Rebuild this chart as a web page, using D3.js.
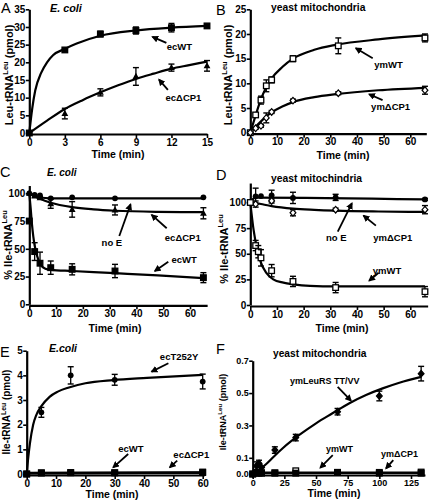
<!DOCTYPE html>
<html><head><meta charset="utf-8">
<script src="https://cdn.jsdelivr.net/npm/d3@7"></script>
<style>body{margin:0;background:#fff} text{font-family:"Liberation Sans",Arial,Helvetica,sans-serif}</style>
</head><body><svg id="c" width="432" height="500"></svg>
<script>
// ---------- Panel A (E. coli, Leu-tRNA) ----------
const aTime=[0,3,6,9,12,15];
const aWT=[0,23.5,28,29,29.8,30.3];
const aWTerr=[0,0.4,0.8,1.0,1.2,0.4];
const aCP1=[0,5.5,11.5,16,18.5,19];
const aCP1err=[0,1.5,1.0,2.5,1.0,1.5];
const aWTfitT=[0,0.25,0.5,1,1.5,2,3,4,6,9,12,15];
const aWTfit=[0,7,12,17,20,22,23.8,25.3,27.5,29,29.8,30.3];
const aCP1fitT=[0,1.5,3,4.5,6,7.5,9,10.5,12,13.5,15];
const aCP1fit=[0,3.5,6.8,9.3,11.5,13.5,15.3,16.8,18.2,19.2,20.2];
const aXTicks=[0,3,6,9,12,15];
const aYTicks=[0,5,10,15,20,25,30,35];

// ---------- Panel B (yeast mito, Leu-tRNA) ----------
const bTime=[0,2,4,6,8,16,33,65.5];
const bWT=[0,3.6,6.6,9.5,10.7,15,17.6,19.2];
const bWTerr=[0,0.4,0.8,1.2,0.6,0.6,1.6,0.8];
const bCP1=[0,0.9,1.4,3.0,4.2,6.5,8.0,8.6];
const bCP1err=[0,0.2,0.3,1.0,0.3,0.3,0.3,0.8];
const bFitT=[0,2,4,6,8,12,16,24,32,48,66];
const bWTfit=[0,3.5,6.8,9.2,11,13.3,15,16.8,17.8,18.9,19.7];
const bCP1fit=[0,1.2,2.3,3.3,4.1,5.3,6.2,7.2,7.8,8.6,9.1];
const bXTicks=[0,10,20,30,40,50,60];
const bYTicks=[0,5,10,15,20,25];

// ---------- Panel C (E. coli, % Ile-tRNA) ----------
const cTime=[0,2,4,8,16,32,65];
const cWT=[75,47.5,37,33,31.5,30,24];
const cWTerr=[0,8,10,6,5,6,4.5];
const cCP1=[100,97.5,96,90.5,85.5,85,82];
const cCP1err=[0,1,1,4,7,4.5,5];
const cNoE=[100,98.5,98,95.5,96.4,95.5,96.4];
const cWTfitT=[0,0.5,1,1.5,2,3,4,6,8,16,32,48,65];
const cWTfit=[100,87,72,61,53,43,36.5,32,31,30,28,26,23.5];
const cCP1fitT=[0,4,8,16,24,32,48,65];
const cCP1fit=[100,95,91.5,87.5,85.5,84.3,83.3,83];
const cNoEfitT=[0,2,4,8,16,65];
const cNoEfit=[100,97.5,96.2,95.5,95.4,95.4];
const cXTicks=[0,10,20,30,40,50,60];
const cYTicks=[0,25,50,75,100];

// ---------- Panel D (yeast mito, % Ile-tRNA) ----------
const dTime=[0,2,3,4,8,16,32,65.5];
const dWT=[100,58,52,46,33.5,23,17,13];
const dWTerr=[0,5,6,8,6,5,5,5];
const dCP1Time=[0,2,8,16,32,65.5];
const dCP1=[100,98.5,101.5,90,93,93];
const dCP1err=[0,3,2,3,1.5,4];
const dNoETime=[0,2,4,8,16,32,65.5];
const dNoE=[100,106,106.3,107,104.5,105,103];
const dNoEerr=[0,8,0,5,5.5,3,1];
const dWTfitT=[0,1.25,2.5,3.6,6.1,8.6,12.4,16.1,22.4,32,65.5];
const dWTfit=[100,73,55,44,31,25,21.8,20.2,18.7,18.2,18.2];
const dCP1fitT=[0,4,8,16,24,32,48,65.5];
const dCP1fit=[100.5,98.5,96.5,94,92.8,92,91.2,90.8];
const dNoEfitT=[0,2,65.5];
const dNoEfit=[101,104.8,103];
const dXTicks=[0,10,20,30,40,50,60];
const dYTicks=[0,25,50,75,100];

// ---------- Panel E (E.coli, Ile-tRNA pmol) ----------
const eTime=[0,5,15,30,60];
const eT252Y=[0,2.5,4.0,3.82,3.75];
const eT252Yerr=[0,0.2,0.35,0.22,0.3];
const eWT=[0,0.05,0.06,0.05,0.06];
const eCP1=[0,0.04,0.05,0.05,0.08];
const eFitT=[0,0.56,1.1,2.2,3.3,5,7.8,10.6,14.4,20,29.4,41,60];
const eT252Yfit=[0,0.7,1.24,2.0,2.4,2.75,3.13,3.34,3.51,3.68,3.81,3.9,4.02];
const eFlatT=[0,60];
const eWTfit=[0.04,0.05];
const eCP1fit=[0.03,0.06];
const eXTicks=[0,10,20,30,40,50,60];
const eYTicks=[0,1,2,3,4,5];

// ---------- Panel F (yeast mito, Ile-tRNA pmol) ----------
const fTime=[0,3,5,7,17.5,34,67,100,133];
const fTT=[0,0.05,0.065,0.04,0.148,0.225,0.385,0.482,0.62];
const fTTerr=[0,0.025,0.02,0,0.02,0.02,0.02,0.03,0.045];
const fWT=[0,0.01,0.012,0.008,0.008,0.02,0.01,0.01,0.012];
const fCP1=[0,0.005,0.005,0.005,0.005,0.005,0.01,0.005,0.005];
const fFitT=[0,5,10.5,17,23.7,36.8,50,63,76,89.5,102.6,115.8,133];
const fTTfit=[0,0.025,0.06,0.11,0.159,0.241,0.313,0.375,0.436,0.488,0.529,0.564,0.6];
const fFlatT=[0,133];
const fFlat=[0.008,0.008];
const fXTicks=[0,25,50,75,100,125];
const fYTicks=[0,0.1,0.3,0.5,0.7];

const svg=d3.select('#c');
const defs=svg.append('defs');
defs.append('marker').attr('id','ah').attr('viewBox','0 0 10 10').attr('refX',8).attr('refY',5)
  .attr('markerWidth',7).attr('markerHeight',7).attr('markerUnits','userSpaceOnUse').attr('orient','auto')
  .append('path').attr('d','M0,0L10,5L0,10z').attr('fill','#000');

function marker(g,type,cx,cy){
  const s=2.8;
  if(type==='sq'||type==='sqo'){
    g.append('rect').attr('x',cx-s).attr('y',cy-s).attr('width',2*s).attr('height',2*s)
     .attr('fill',type==='sq'?'#000':'#fff').attr('stroke','#000').attr('stroke-width',1.3);
  } else if(type==='tri'){
    g.append('path').attr('d',`M${cx},${cy-3.6}L${cx+3.4},${cy+2.5}L${cx-3.4},${cy+2.5}Z`).attr('fill','#000');
  } else if(type==='circ'){
    g.append('circle').attr('cx',cx).attr('cy',cy).attr('r',2.9).attr('fill','#000');
  } else if(type==='dia'||type==='diaf'){
    g.append('path').attr('d',`M${cx},${cy-3.3}L${cx+2.9},${cy}L${cx},${cy+3.3}L${cx-2.9},${cy}Z`)
     .attr('fill',type==='diaf'?'#000':'#fff').attr('stroke','#000').attr('stroke-width',1.2);
  }
}

function drawPanel(p){
  const xb=d3.scaleLinear().domain(p.xd).range(p.xr);
  const yb=d3.scaleLinear().domain(p.yd).range(p.yr);
  const x=xb.copy().domain([0,p.xmax]).range([xb(0),xb(p.xmax)]);
  const y=yb.copy().domain([0,p.ymax]).range([yb(0),yb(p.ymax)]);
  const g=svg.append('g');
  const ax=g.append('g').attr('transform',`translate(0,${y(0)+1})`)
    .call(d3.axisBottom(x).tickValues(p.xt).tickSize(4).tickSizeOuter(0).tickPadding(0.5).tickFormat(d3.format('d')));
  const ay=g.append('g').attr('transform',`translate(${x(0)},0)`)
    .call(d3.axisLeft(y).tickValues(p.yt).tickSize(3.5).tickSizeOuter(0).tickPadding(0.5).tickFormat(p.yf||d3.format('d')));
  [ax,ay].forEach(a=>{
    a.select('.domain').attr('stroke','#000').attr('stroke-width',2.2);
    a.selectAll('.tick line').attr('stroke','#000').attr('stroke-width',1.6);
    a.selectAll('.tick text').attr('fill','#000').attr('font-size',p.tfs||10).attr('font-weight','bold')
      .attr('font-family','"Liberation Sans",Arial,sans-serif');
  });
  const line=d3.line().x(d=>x(d[0])).y(d=>y(d[1])).curve(d3.curveMonotoneX);
  p.fits.forEach(f=>{
    g.append('path').datum(d3.zip(f.t,f.v)).attr('d',line).attr('fill','none')
     .attr('stroke','#000').attr('stroke-width',f.w||2.2);
  });
  p.series.forEach(s=>{
    s.t.forEach((t,i)=>{
      const e=s.err?s.err[i]:0, cx=x(t), cy=y(s.v[i]);
      if(e>0){
        const y1=y(s.v[i]+e), y2=y(s.v[i]-e);
        g.append('line').attr('x1',cx).attr('x2',cx).attr('y1',y1).attr('y2',y2).attr('stroke','#000').attr('stroke-width',1.3);
        [y1,y2].forEach(yy=>g.append('line').attr('x1',cx-3).attr('x2',cx+3).attr('y1',yy).attr('y2',yy).attr('stroke','#000').attr('stroke-width',1.4));
      }
      marker(g,s.m,cx,cy);
    });
  });
  p.notes.forEach(n=>{
    const t=g.append('text').attr('x',x(n.tx)).attr('y',y(n.ty)).text(n.label)
      .attr('font-size',n.fs||9.5).attr('font-weight','bold').attr('fill','#000');
    g.append('line').attr('x1',x(n.a[0])).attr('y1',y(n.a[1])).attr('x2',x(n.a[2])).attr('y2',y(n.a[3]))
      .attr('stroke','#000').attr('stroke-width',1.8).attr('marker-end','url(#ah)');
  });
  svg.append('text').attr('x',p.letter[1]).attr('y',p.letter[2]).text(p.letter[0]).attr('font-size',14.5).attr('fill','#000');
  svg.append('text').attr('x',p.title[1]).attr('y',p.title[2]).text(p.title[0]).attr('font-size',p.title[3]).attr('font-weight','bold')
    .attr('font-style',p.italic?'italic':'normal').attr('fill','#000');
  svg.append('text').attr('x',p.xl[0]).attr('y',p.xl[1]).attr('text-anchor','middle').text('Time (min)')
    .attr('font-size',10.5).attr('font-weight','bold').attr('fill','#000');
  const yl=svg.append('text').attr('transform',`translate(${p.yl[0]},${p.yl[1]}) rotate(-90)`).attr('text-anchor','middle')
    .attr('font-size',p.yl[3]).attr('font-weight','bold').attr('fill','#000');
  yl.append('tspan').text(p.yl[2][0]);
  yl.append('tspan').text('Leu').attr('font-size',p.yl[3]*0.68).attr('dy',-p.yl[3]*0.42);
  yl.append('tspan').text(p.yl[2][1]).attr('dy',p.yl[3]*0.42);
}

drawPanel({xd:[0,15],xr:[29.3,207],yd:[0,35],yr:[133,9.3],xmax:15,ymax:35,xt:aXTicks,yt:aYTicks,
  fits:[{t:aWTfitT,v:aWTfit},{t:aCP1fitT,v:aCP1fit}],
  series:[{t:aTime,v:aWT,err:aWTerr,m:'sq'},{t:aTime,v:aCP1,err:aCP1err,m:'tri'}],
  notes:[{label:'ecWT',tx:11.6,ty:23.6,a:[11.57,25.5,10.4,27.2]},
         {label:'ecΔCP1',tx:11.5,ty:9.1,a:[11.7,12.2,10.95,15.1]}],
  letter:['A',1,13],title:['E. coli',50,12,10.8],italic:true,xl:[118,158],yl:[13,75,['Leu-tRNA',' (pmol)'],11]});

drawPanel({xd:[0,60],xr:[250.3,410.3],yd:[0,25],yr:[132.7,9.3],xmax:66,ymax:25,xt:bXTicks,yt:bYTicks,
  fits:[{t:bFitT,v:bWTfit},{t:bFitT,v:bCP1fit}],
  series:[{t:bTime,v:bWT,err:bWTerr,m:'sqo'},{t:bTime,v:bCP1,err:bCP1err,m:'dia'}],
  notes:[{label:'ymWT',tx:46.5,ty:13.1,a:[45.9,15.1,39.6,17.1]},
         {label:'ymΔCP1',tx:45.3,ty:4.6,a:[49.6,6.6,44.6,7.8]}],
  letter:['B',216,15],title:['yeast mitochondria',271,11,10.3],xl:[343,159],yl:[232,75,['Leu-tRNA',' (pmol)'],11]});

drawPanel({xd:[0,60],xr:[29.3,190],yd:[0,100],yr:[304.3,193.3],xmax:66.4,ymax:107,xt:cXTicks,yt:cYTicks,
  fits:[{t:cWTfitT,v:cWTfit},{t:cCP1fitT,v:cCP1fit},{t:cNoEfitT,v:cNoEfit}],
  series:[{t:cTime,v:cNoE,m:'circ'},{t:cTime,v:cCP1,err:cCP1err,m:'tri'},{t:cTime,v:cWT,err:cWTerr,m:'sq'}],
  notes:[{label:'ecΔCP1',tx:50.6,ty:57,a:[51.3,68.5,45.7,80.5]},
         {label:'ecWT',tx:53.1,ty:37.2,a:[51.9,38.4,46.9,30]},
         {label:'no E',tx:27,ty:52.5,a:[33.6,61.5,37.8,90]}],
  letter:['C',0,177],title:['E. coli',47,176,10],italic:true,xl:[115,332],yl:[12,245,['% Ile-tRNA',''],11]});

drawPanel({xd:[0,60],xr:[250.3,410.3],yd:[0,100],yr:[305,202.5],xmax:66.5,ymax:119,xt:dXTicks,yt:dYTicks,
  fits:[{t:dWTfitT,v:dWTfit},{t:dCP1fitT,v:dCP1fit},{t:dNoEfitT,v:dNoEfit}],
  series:[{t:dNoETime,v:dNoE,err:dNoEerr,m:'circ'},{t:dCP1Time,v:dCP1,err:dCP1err,m:'dia'},{t:dTime,v:dWT,err:dWTerr,m:'sqo'}],
  notes:[{label:'ymΔCP1',tx:46.1,ty:62.4,a:[47.1,77.4,42.5,87.1]},
         {label:'ymWT',tx:45.9,ty:30.7,a:[48.1,31.5,44.6,23.7]},
         {label:'no E',tx:28.4,ty:62.4,a:[32.8,71.5,38.1,99.2]}],
  letter:['D',216,180],title:['yeast mitochindria',271,182,10.3],xl:[342,332],yl:[228,249,['% Ile-tRNA',''],11]});

drawPanel({xd:[0,60],xr:[26.7,202.7],yd:[0,5],yr:[474,350.7],xmax:60.5,ymax:5,xt:eXTicks,yt:eYTicks,
  fits:[{t:eFitT,v:eT252Yfit},{t:eFlatT,v:eWTfit,w:2.6},{t:eFlatT,v:eCP1fit,w:2.6}],
  series:[{t:eTime,v:eWT,m:'sq'},{t:eTime,v:eCP1,m:'sq'},{t:eTime,v:eT252Y,err:eT252Yerr,m:'circ'}],
  notes:[{label:'ecT252Y',tx:45.4,ty:4.62,a:[48.3,4.49,42.6,4.15]},
         {label:'ecWT',tx:31.2,ty:0.91,a:[34.6,0.81,29.5,0.27]},
         {label:'ecΔCP1',tx:50,ty:0.65,a:[51.3,0.54,48.8,0.27]}],
  letter:['E',0,357],title:['E.coli',49,352,10.5],italic:true,xl:[112,498],yl:[10,412,['Ile-tRNA',' (pmol)'],10]});

drawPanel({xd:[0,125],xr:[252.7,411],yd:[0,0.7],yr:[474,360.7],xmax:136,ymax:0.7,xt:fXTicks,yt:fYTicks,yf:d3.format('.1f'),tfs:9,
  fits:[{t:fFitT,v:fTTfit},{t:fFlatT,v:fFlat,w:2.6}],
  series:[{t:fTime,v:fWT,m:'sqo'},{t:fTime,v:fCP1,m:'sq'},{t:fTime,v:fTT,err:fTTerr,m:'diaf'}],
  notes:[{label:'ymLeuRS TT/VV',tx:29.5,ty:0.553,a:[67.1,0.539,77.6,0.453],fs:9},
         {label:'ymWT',tx:57.9,ty:0.133,a:[63.2,0.117,53.4,0.039],fs:9},
         {label:'ymΔCP1',tx:101.3,ty:0.105,a:[111,0.086,105.3,0.035],fs:9}],
  letter:['F',216,354],title:['yeast mitochondria',273,357,10.2],xl:[334,497],yl:[226,412,['Ile-tRNA',' (pmol)'],9]});
</script></body></html>
